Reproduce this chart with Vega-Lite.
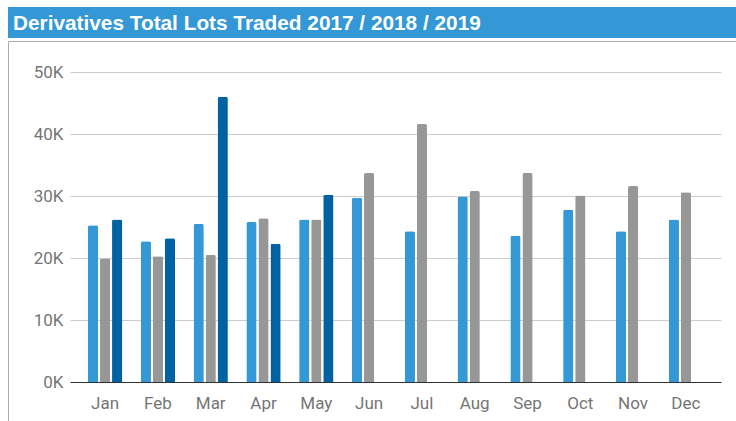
{
  "$schema": "https://vega.github.io/schema/vega-lite/v6.json",
  "padding": {"left": 7, "top": 7, "right": 0, "bottom": 0},
  "background": "white",
  "spacing": 2,
  "config": {"view": {"stroke": null}},
  "vconcat": [
    {
      "width": 729,
      "height": 31,
      "data": {"values": [{"band": "title"}]},
      "mark": {"type": "bar", "color": "#3598d6"},
      "encoding": {},
      "title": {
        "text": "Derivatives Total Lots Traded 2017 / 2018 / 2019",
        "orient": "top",
        "anchor": "start",
        "frame": "group",
        "offset": -28,
        "dx": 5,
        "color": "white",
        "font": "Liberation Sans",
        "fontSize": 20.8,
        "fontWeight": "bold"
      }
    },
    {
      "width": 729,
      "height": 381,
      "view": {"stroke": "#ababab", "strokeWidth": 1},
      "data": {
        "values": [
          {"month": "Jan", "year": "2017", "lots": 25300},
          {"month": "Jan", "year": "2018", "lots": 19900},
          {"month": "Jan", "year": "2019", "lots": 26200},
          {"month": "Feb", "year": "2017", "lots": 22700},
          {"month": "Feb", "year": "2018", "lots": 20300},
          {"month": "Feb", "year": "2019", "lots": 23200},
          {"month": "Mar", "year": "2017", "lots": 25500},
          {"month": "Mar", "year": "2018", "lots": 20500},
          {"month": "Mar", "year": "2019", "lots": 46000},
          {"month": "Apr", "year": "2017", "lots": 25800},
          {"month": "Apr", "year": "2018", "lots": 26400},
          {"month": "Apr", "year": "2019", "lots": 22300},
          {"month": "May", "year": "2017", "lots": 26200},
          {"month": "May", "year": "2018", "lots": 26200},
          {"month": "May", "year": "2019", "lots": 30200},
          {"month": "Jun", "year": "2017", "lots": 29700},
          {"month": "Jun", "year": "2018", "lots": 33700},
          {"month": "Jul", "year": "2017", "lots": 24300},
          {"month": "Jul", "year": "2018", "lots": 41600},
          {"month": "Aug", "year": "2017", "lots": 29900},
          {"month": "Aug", "year": "2018", "lots": 30800},
          {"month": "Sep", "year": "2017", "lots": 23600},
          {"month": "Sep", "year": "2018", "lots": 33700},
          {"month": "Oct", "year": "2017", "lots": 27800},
          {"month": "Oct", "year": "2018", "lots": 30100},
          {"month": "Nov", "year": "2017", "lots": 24300},
          {"month": "Nov", "year": "2018", "lots": 31600},
          {"month": "Dec", "year": "2017", "lots": 26200},
          {"month": "Dec", "year": "2018", "lots": 30600}
        ]
      },
      "mark": {"type": "bar", "cornerRadiusTopLeft": 2, "cornerRadiusTopRight": 2},
      "encoding": {
        "x": {
          "field": "month",
          "type": "nominal",
          "sort": ["Jan", "Feb", "Mar", "Apr", "May", "Jun", "Jul", "Aug", "Sep", "Oct", "Nov", "Dec"],
          "scale": {"range": [62, 713], "paddingInner": 0.35, "paddingOuter": 0.34},
          "axis": {
            "title": null,
            "orient": "bottom",
            "offset": -40,
            "domainColor": "#333333",
            "domainWidth": 1,
            "ticks": false,
            "tickSize": 0,
            "labelPadding": 13,
            "labelAngle": 0,
            "labelFont": "Roboto",
            "labelFontSize": 17,
            "labelColor": "#757575",
            "grid": false
          }
        },
        "xOffset": {
          "field": "year",
          "type": "nominal",
          "scale": {"domain": ["2017", "2018", "2019"], "paddingInner": 0.15}
        },
        "y": {
          "field": "lots",
          "type": "quantitative",
          "scale": {"domain": [0, 50000], "range": [341, 31], "nice": false},
          "axis": {
            "title": null,
            "orient": "left",
            "offset": -62,
            "values": [0, 10000, 20000, 30000, 40000, 50000],
            "labelExpr": "datum.value / 1000 + 'K'",
            "domain": false,
            "ticks": false,
            "tickSize": 0,
            "labelPadding": 7,
            "labelFont": "Roboto",
            "labelFontSize": 17,
            "labelColor": "#757575",
            "grid": true,
            "gridColor": "#cccccc",
            "gridWidth": 1
          }
        },
        "color": {
          "field": "year",
          "type": "nominal",
          "scale": {"domain": ["2017", "2018", "2019"], "range": ["#3598d6", "#979797", "#0061a3"]},
          "legend": null
        }
      }
    }
  ]
}
